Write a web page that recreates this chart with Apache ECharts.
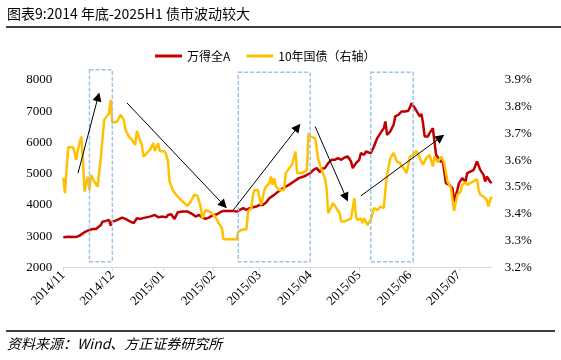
<!DOCTYPE html>
<html>
<head>
<meta charset="utf-8">
<script src="https://cdn.jsdelivr.net/npm/echarts@6/dist/echarts.min.js"></script>
<style>html,body{margin:0;padding:0;background:#fff;}#c{width:561px;height:360px;}</style>
</head>
<body>
<div id="c"></div>
<script>
// ---- data ----
const seriesNames = ['万得全A', '10年国债（右轴）'];
const leftTicks = [2000, 3000, 4000, 5000, 6000, 7000, 8000];
const rightTicks = [3.2, 3.3, 3.4, 3.5, 3.6, 3.7, 3.8, 3.9];

const windDates = ['2014-11-01','2014-11-04','2014-11-09','2014-11-11','2014-11-14','2014-11-17','2014-11-19','2014-11-21','2014-11-24','2014-11-25','2014-11-27','2014-11-29','2014-11-30',
'2014-12-01','2014-12-03','2014-12-05','2014-12-07','2014-12-09','2014-12-12','2014-12-14','2014-12-16','2014-12-18','2014-12-21','2014-12-24','2014-12-27','2014-12-29',
'2015-01-01','2015-01-03','2015-01-04','2015-01-06','2015-01-08','2015-01-10','2015-01-13','2015-01-16','2015-01-19','2015-01-21','2015-01-23','2015-01-25','2015-01-27','2015-01-29','2015-01-31',
'2015-02-03','2015-02-05','2015-02-07','2015-02-10','2015-02-13','2015-02-15','2015-02-17','2015-02-19','2015-02-21','2015-02-23','2015-02-25','2015-02-27',
'2015-03-01','2015-03-03','2015-03-05','2015-03-07','2015-03-10','2015-03-12','2015-03-14','2015-03-17','2015-03-19','2015-03-22','2015-03-25','2015-03-28','2015-03-30',
'2015-04-01','2015-04-03','2015-04-05','2015-04-07','2015-04-08','2015-04-10','2015-04-12','2015-04-14','2015-04-16','2015-04-18','2015-04-20','2015-04-22','2015-04-24','2015-04-26','2015-04-27','2015-04-29',
'2015-05-01','2015-05-02','2015-05-04','2015-05-05','2015-05-08','2015-05-10','2015-05-12','2015-05-14','2015-05-16','2015-05-17','2015-05-18','2015-05-20','2015-05-22','2015-05-23','2015-05-25','2015-05-27','2015-05-29','2015-05-31',
'2015-06-01','2015-06-02','2015-06-04','2015-06-05','2015-06-07','2015-06-08','2015-06-09','2015-06-10','2015-06-12','2015-06-13','2015-06-15','2015-06-16','2015-06-17','2015-06-18','2015-06-20','2015-06-21','2015-06-22','2015-06-23','2015-06-25','2015-06-27','2015-06-28','2015-06-30',
'2015-07-01','2015-07-03','2015-07-05','2015-07-06','2015-07-08','2015-07-10','2015-07-12','2015-07-14','2015-07-16','2015-07-17','2015-07-18','2015-07-20','2015-07-21'];
const windValues = [2963,2982,2972,3014,3123,3197,3229,3229,3357,3463,3486,3518,3335,
3463,3495,3540,3592,3550,3463,3412,3572,3550,3592,3624,3678,3604,
3624,3604,3678,3701,3550,3765,3784,3784,3701,3624,3678,3592,3550,3592,3656,
3701,3765,3807,3807,3807,3784,3839,3893,3839,3893,3925,3945,
3999,3999,4073,4214,4320,4407,4481,4586,4641,4747,4856,4907,4962,
5016,5122,5177,5049,5154,5177,5337,5443,5443,5498,5443,5517,5549,5389,5177,5337,
5443,5658,5604,5710,5658,5870,6140,6300,6460,6672,6245,6351,6566,6833,6887,6993,6993,7016,
7122,7260,7102,7048,6833,6910,6621,6191,6191,6300,6460,6030,5604,5549,5369,5443,5068,4696,4641,4535,4105,4481,
4696,4856,4747,5016,5068,5122,5389,5122,4962,4747,4907,4747,4696];

const bondDates = ['2014-11-01','2014-11-02','2014-11-04','2014-11-07','2014-11-09','2014-11-10','2014-11-11','2014-11-12','2014-11-13','2014-11-14','2014-11-16','2014-11-17','2014-11-18','2014-11-20','2014-11-22','2014-11-24','2014-11-26','2014-11-27','2014-11-29','2014-11-30',
'2014-12-01','2014-12-04','2014-12-06','2014-12-08','2014-12-09','2014-12-11','2014-12-13','2014-12-14','2014-12-15','2014-12-16','2014-12-17','2014-12-19','2014-12-20','2014-12-22','2014-12-24','2014-12-26','2014-12-27','2014-12-29','2014-12-30',
'2015-01-02','2015-01-03','2015-01-04','2015-01-05','2015-01-07','2015-01-09','2015-01-10','2015-01-12','2015-01-14','2015-01-16','2015-01-18','2015-01-20','2015-01-22','2015-01-24','2015-01-25','2015-01-27','2015-01-28','2015-01-30',
'2015-02-02','2015-02-04','2015-02-06','2015-02-07','2015-02-15','2015-02-16','2015-02-18','2015-02-21','2015-02-22','2015-02-24','2015-02-25','2015-02-26','2015-02-27','2015-02-28',
'2015-03-02','2015-03-04','2015-03-05','2015-03-07','2015-03-08','2015-03-09','2015-03-10','2015-03-11','2015-03-13','2015-03-16','2015-03-17','2015-03-20','2015-03-21','2015-03-23','2015-03-24','2015-03-27','2015-03-30','2015-03-31',
'2015-04-01','2015-04-02','2015-04-04','2015-04-06','2015-04-08','2015-04-10','2015-04-11','2015-04-12','2015-04-13','2015-04-15','2015-04-17','2015-04-19','2015-04-20','2015-04-22','2015-04-24','2015-04-26','2015-04-28','2015-04-29','2015-04-30',
'2015-05-02','2015-05-03','2015-05-04','2015-05-06','2015-05-08','2015-05-10','2015-05-12','2015-05-14','2015-05-16','2015-05-17','2015-05-18','2015-05-20','2015-05-22','2015-05-24','2015-05-26','2015-05-28','2015-05-30',
'2015-06-01','2015-06-03','2015-06-05','2015-06-07','2015-06-09','2015-06-11','2015-06-13','2015-06-15','2015-06-16','2015-06-18','2015-06-20','2015-06-22','2015-06-24','2015-06-26','2015-06-28','2015-06-30',
'2015-07-02','2015-07-03','2015-07-05','2015-07-06','2015-07-09','2015-07-12','2015-07-13','2015-07-14','2015-07-16','2015-07-18','2015-07-19','2015-07-20','2015-07-21'];
const bondValues = [3.534,3.477,3.649,3.649,3.602,3.642,3.649,3.689,3.602,3.483,3.539,3.489,3.545,3.520,3.502,3.614,3.751,3.758,3.776,3.826,
3.740,3.745,3.770,3.751,3.714,3.689,3.676,3.683,3.658,3.710,3.689,3.658,3.614,3.627,3.639,3.664,3.635,3.664,3.635,
3.633,3.620,3.595,3.520,3.489,3.471,3.473,3.452,3.440,3.429,3.446,3.471,3.468,3.427,3.383,3.414,3.411,3.406,
3.389,3.365,3.346,3.305,3.305,3.333,3.340,3.342,3.408,3.421,3.471,3.489,3.496,3.489,
3.433,3.489,3.502,3.514,3.539,3.508,3.533,3.502,3.489,3.489,3.552,3.577,3.586,3.633,3.552,3.552,3.564,3.702,
3.689,3.689,3.683,3.602,3.564,3.533,3.496,3.402,3.396,3.440,3.421,3.402,3.371,3.371,3.377,3.383,3.458,3.389,3.377,
3.383,3.365,3.383,3.358,3.377,3.421,3.414,3.427,3.421,3.489,3.545,3.608,3.627,3.595,3.589,3.571,3.552,
3.614,3.620,3.635,3.608,3.583,3.608,3.620,3.577,3.614,3.593,3.614,3.589,3.520,3.498,3.411,3.471,
3.483,3.508,3.518,3.508,3.518,3.530,3.489,3.471,3.464,3.452,3.427,3.452,3.464];

// annotations (in data coordinates: date, left-axis value)
const boxes = [
  ['2014-11-17', 8330, '2014-12-01', 2180],
  ['2015-02-16', 8245, '2015-04-01', 2180],
  ['2015-05-08', 8245, '2015-06-03', 2180]
];
const arrows = [
  ['2014-11-10', 5016, '2014-11-23', 7603],
  ['2014-12-10', 7263, '2015-02-09', 3893],
  ['2015-02-13', 3839, '2015-03-26', 6599],
  ['2015-04-04', 6512, '2015-04-24', 4105],
  ['2015-05-02', 4288, '2015-06-22', 6245]
];

const titleText = '图表9:2014 年底-2025H1 债市波动较大';
const sourceText = '资料来源：Wind、方正证券研究所';

// ---- chart ----
const chart = echarts.init(document.getElementById('c'), null, {renderer: 'canvas'});
const serif = '"Liberation Serif", "Times New Roman", serif';
const cjk = '"Noto Sans CJK SC", sans-serif';

function fmtMonth(v) {
  const d = new Date(v);
  return d.getFullYear() + '/' + String(d.getMonth() + 1).padStart(2, '0');
}

const option = {
  animation: false,
  backgroundColor: '#fff',
  grid: {left: 63.3, right: 69.3, top: 80, bottom: 92.7, containLabel: false},
  legend: {
    left: 150, top: 45,
    icon: 'rect', itemWidth: 27, itemHeight: 3, itemGap: 16,
    textStyle: {fontFamily: cjk, fontSize: 12, color: '#000'},
    data: seriesNames
  },
  xAxis: {
    type: 'time',
    min: '2014-11-01', max: '2015-07-21',
    minInterval: 28 * 86400000, maxInterval: 31 * 86400000,
    axisLine: {lineStyle: {color: '#d9d9d9', width: 1}},
    axisTick: {show: true, length: 4, lineStyle: {color: '#d9d9d9'}},
    splitLine: {show: false},
    axisLabel: {
      rotate: 45, margin: 6, color: '#000', fontFamily: serif, fontSize: 13,
      formatter: fmtMonth, showMaxLabel: false, hideOverlap: false
    }
  },
  yAxis: [
    {
      type: 'value', min: leftTicks[0], max: leftTicks[leftTicks.length - 1], interval: 1000,
      axisLine: {show: false}, axisTick: {show: false}, splitLine: {show: false},
      axisLabel: {color: '#000', fontFamily: serif, fontSize: 13, margin: 11,
        formatter: v => String(v)}
    },
    {
      type: 'value', min: rightTicks[0], max: rightTicks[rightTicks.length - 1], interval: 0.1,
      axisLine: {show: false}, axisTick: {show: false}, splitLine: {show: false},
      axisLabel: {color: '#000', fontFamily: serif, fontSize: 13, margin: 13,
        formatter: v => v.toFixed(1) + '%'}
    }
  ],
  series: [
    {
      name: seriesNames[0], type: 'line', yAxisIndex: 0, showSymbol: false,
      data: windDates.map((d, i) => [d, windValues[i]]),
      lineStyle: {color: '#C00000', width: 2.5}, itemStyle: {color: '#C00000'}, z: 2
    },
    {
      name: seriesNames[1], type: 'line', yAxisIndex: 1, showSymbol: false,
      data: bondDates.map((d, i) => [d, bondValues[i]]),
      lineStyle: {color: '#FFC000', width: 2.5}, itemStyle: {color: '#FFC000'}, z: 3
    }
  ]
};
chart.setOption(option);

function px(date, val) {
  return chart.convertToPixel({xAxisIndex: 0, yAxisIndex: 0}, [echarts.time.parse(date).getTime(), val]);
}

const g = [];
// title & rules
g.push({type: 'text', left: 7, top: 7, style: {text: titleText, font: '14px ' + cjk, fill: '#000'}, z: 10});
g.push({type: 'line', shape: {x1: 6, y1: 27, x2: 561, y2: 27}, style: {stroke: '#404040', lineWidth: 2}, z: 10});
g.push({type: 'line', shape: {x1: 6, y1: 331, x2: 555, y2: 331}, style: {stroke: '#404040', lineWidth: 2}, z: 10});
g.push({type: 'text', left: 7, top: 337, style: {text: sourceText, font: 'italic 14px ' + cjk, fill: '#000'}, z: 10});

boxes.forEach(b => {
  const p1 = px(b[0], b[1]);
  const p2 = px(b[2], b[3]);
  g.push({type: 'rect', shape: {x: p1[0], y: p1[1], width: p2[0] - p1[0], height: p2[1] - p1[1]},
    style: {fill: 'none', stroke: '#9DC3E6', lineWidth: 1.5, lineDash: [4, 2]}, z: 5});
});

arrows.forEach(a => {
  const t = px(a[0], a[1]);
  const h = px(a[2], a[3]);
  const dx = h[0] - t[0], dy = h[1] - t[1];
  const len = Math.sqrt(dx * dx + dy * dy);
  const ux = dx / len, uy = dy / len;
  const L = 9, W = 4.5;
  const bx = h[0] - ux * L, by = h[1] - uy * L;
  g.push({type: 'line', shape: {x1: t[0], y1: t[1], x2: bx + ux * 2, y2: by + uy * 2},
    style: {stroke: '#000', lineWidth: 1}, z: 6});
  g.push({type: 'polygon', shape: {points: [[h[0], h[1]], [bx - uy * W, by + ux * W], [bx + uy * W, by - ux * W]]},
    style: {fill: '#000'}, z: 6});
});

chart.setOption({graphic: g});
</script>
</body>
</html>
